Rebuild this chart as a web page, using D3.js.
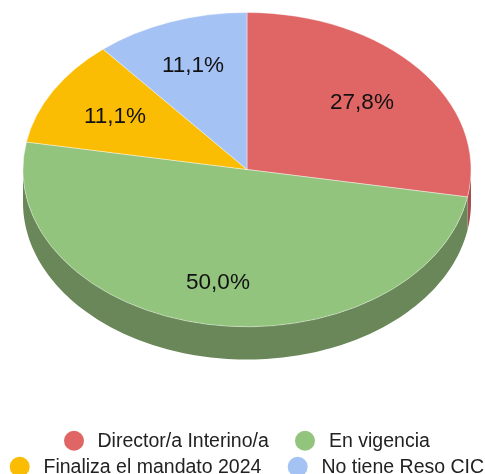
<!DOCTYPE html>
<html><head><meta charset="utf-8">
<style>html,body{margin:0;padding:0;background:#fff;overflow:hidden}svg{display:block;filter:blur(0.4px)}</style>
<script src="https://cdnjs.cloudflare.com/ajax/libs/d3/7.8.5/d3.min.js"></script>
</head><body><svg id="c" width="485" height="474"></svg>
<script>
const categories = ["Director/a Interino/a","En vigencia","Finaliza el mandato 2024","No tiene Reso CIC"];
const values = [27.8,50.0,11.1,11.1];
const labels = ["27,8%","50,0%","11,1%","11,1%"];
const colors = ["#e06666","#93c47d","#fbbc04","#a4c2f4"];
const sideColors = ["#a84d4d","#6a8759","#bc8d03","#7b92b7"];
const labelPos = [[362,101],[218,281],[115,115],[193,64]];
const legendPos = [[74,440.7],[305,440.7],[19.7,466.7],[297.7,466.7]];
const textX = [97.5,329,43.5,321.5];

const W=485,H=474,cx=247,cy=169.5,rx=224,ry=157,depth=33;
const svg=d3.select("#c");
const pie=d3.pie().sort(null).value(d=>d).startAngle(0).endAngle(2*Math.PI)(values);
const ex=a=>cx+rx*Math.sin(a), ey=a=>cy-ry*Math.cos(a);

// side wall
const front=[Math.PI/2,3*Math.PI/2];
const area=d3.area().x(a=>ex(a)).y0(a=>ey(a)).y1(a=>ey(a)+depth);
pie.forEach((p,i)=>{
  const s=Math.max(p.startAngle,front[0]),e=Math.min(p.endAngle,front[1]);
  if(e<=s)return;
  svg.append("path").attr("d",area(d3.range(0,121).map(k=>s+(e-s)*k/120))).attr("fill",sideColors[i]);
});
// top face
const arc=d3.arc().innerRadius(0).outerRadius(rx);
svg.append("g").attr("transform",`translate(${cx},${cy}) scale(1,${ry/rx})`)
 .selectAll("path").data(pie).join("path").attr("d",arc).attr("fill",(d,i)=>colors[i])
 .attr("stroke","#fff").attr("stroke-width",0.4).attr("vector-effect","non-scaling-stroke");

const font='"Liberation Sans",Arial,sans-serif';
svg.selectAll("text.v").data(labels).join("text").attr("class","v")
 .attr("x",(d,i)=>labelPos[i][0]).attr("y",(d,i)=>labelPos[i][1]+8)
 .attr("text-anchor","middle").attr("font-family",font).attr("font-size",22.5).attr("fill","#111").text(d=>d);
const lg=svg.append("g");
categories.forEach((c,i)=>{
  lg.append("circle").attr("cx",legendPos[i][0]).attr("cy",legendPos[i][1]).attr("r",10).attr("fill",colors[i]);
  lg.append("text").attr("x",textX[i]).attr("y",legendPos[i][1]+6).attr("font-family",font).attr("font-size",19.5).attr("fill","#222").text(c);
});
</script></body></html>
